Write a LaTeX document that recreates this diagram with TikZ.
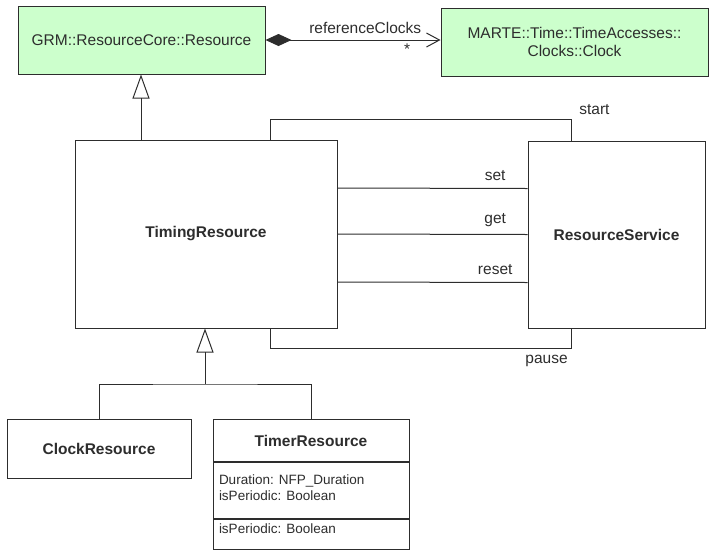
\documentclass[tikz,border=0pt]{standalone}
\usepackage{fontspec}
\setmainfont{Liberation Sans}
\usepackage{tikz}
\usetikzlibrary{arrows.meta,positioning,calc}
\definecolor{umlgreen}{RGB}{204,255,204}
\definecolor{umlgray}{RGB}{45,45,45}

\begin{document}
\begin{tikzpicture}[x=1pt,y=-1pt,line width=1pt,color=umlgray,
  font=\fontsize{15.5}{18}\selectfont]
  \tikzset{cls/.style={draw,fill=#1,align=center,inner sep=2pt},
    bold/.style={font=\fontsize{15.5}{18}\selectfont\bfseries},
    attr/.style={font=\fontsize{13.5}{16}\selectfont,align=left,inner sep=0pt,anchor=north west},
    gen/.style={-{Triangle[open,length=24pt,width=17pt]}}}
  \useasboundingbox (0,0) rectangle (710,550);
  \node[cls=umlgreen,minimum width=247pt,minimum height=68pt] (grm) at (141.5,40) {GRM::ResourceCore::Resource};
  \node[cls=umlgreen,minimum width=267pt,minimum height=68pt] (clk) at (574.5,42) {MARTE::Time::TimeAccesses::\\Clocks::Clock};
  \node[cls=white,bold,minimum width=262pt,minimum height=188pt] (tr) at (206,234) {TimingResource};
  \node[cls=white,bold,minimum width=177pt,minimum height=187pt] (rs) at (616.5,234.5) {ResourceService};
  \node[cls=white,bold,minimum width=184pt,minimum height=59pt] (cr) at (99,448.5) {ClockResource};
  \node[cls=white,bold,minimum width=196pt,minimum height=42pt,anchor=north] (tm) at (311,419) {TimerResource};
  \node[cls=white,minimum width=196pt,minimum height=56pt,anchor=north] (tmattr) at (tm.south) {};
  \node[cls=white,minimum width=196pt,minimum height=30pt,anchor=north] (tmops) at (tmattr.south) {};
  \node[attr] (attrtxt) at ([shift={(6,12)}]tmattr.north west) {Duration: NFP\_Duration\\isPeriodic: Boolean};
  \node[attr] (opstxt) at ([shift={(6,4)}]tmops.north west) {isPeriodic: Boolean};

  \draw[{Diamond[length=26pt,width=12pt]}-{Straight Barb[length=13pt,width=14pt]}] (grm.east)
    -- node[pos=0.57,above=3pt] {referenceClocks} node[pos=0.81,below] {*} (grm.east -| clk.west);
  \coordinate (up) at (141,140);
  \draw[gen] (up) -- (up |- grm.south);
  \coordinate (fork) at (205,384);
  \draw[gen] (fork) -- (fork |- tr.south);
  \draw (cr.north) |- (fork) -| (tm.north);

  \draw ([xshift=196pt]tr.north west) -- ++(0,-20) -| node[pos=0.5,above right,xshift=4pt,yshift=1pt] {start} ([xshift=44pt]rs.north west);
  \draw ([xshift=196pt]tr.south west) -- ++(0,20) -| node[pos=0.5,below left,yshift=-3pt] {pause} ([xshift=44pt]rs.south west);
  \foreach \lbl/\dy in {set/46,get/0,reset/-48}
    \draw ([yshift=\dy pt]tr.east) -- node[pos=0.83,above=4pt] {\lbl} ([yshift=\dy pt]rs.west);
\end{tikzpicture}
\end{document}
